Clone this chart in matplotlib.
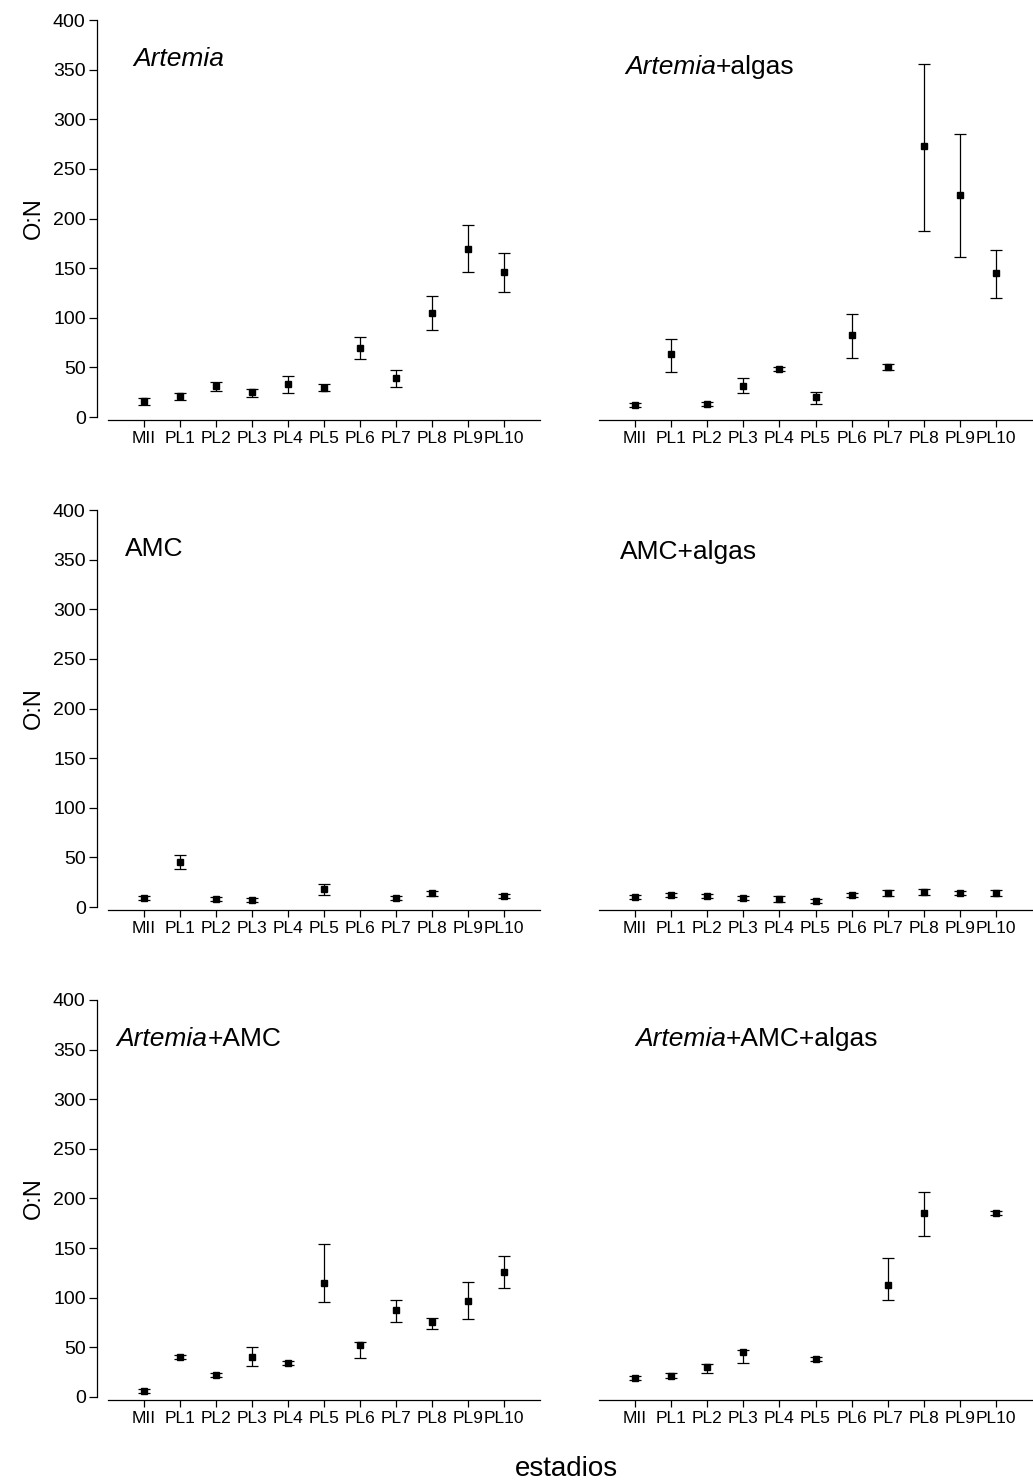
import numpy as np
import matplotlib
matplotlib.use("Agg")
import matplotlib.pyplot as plt

plt.rcParams['font.family'] = ['Liberation Sans', 'DejaVu Sans']

nan = np.nan
stages = ['MII', 'PL1', 'PL2', 'PL3', 'PL4', 'PL5', 'PL6', 'PL7', 'PL8', 'PL9', 'PL10']

# O:N means with lower / upper error limits, one set per diet
art_mean = [16, 21, 31, 25, 33, 29, 70, 39, 105, 169, 146]
art_lo = [12, 17, 26, 20, 24, 26, 58, 30, 88, 146, 126]
art_hi = [19, 24, 35, 28, 41, 33, 81, 47, 122, 193, 165]

artalg_mean = [12, 63, 13, 31, 48, 20, 83, 50, 273, 224, 145]
artalg_lo = [10, 45, 11, 24, 46, 13, 59, 47, 187, 161, 120]
artalg_hi = [14, 79, 15, 39, 50, 25, 104, 53, 356, 285, 168]

amc_mean = [9, 45, 8, 7, nan, 18, nan, 9, 14, nan, 11]
amc_lo = [7, 38, 6, 5, nan, 12, nan, 7, 11, nan, 9]
amc_hi = [11, 52, 10, 9, nan, 23, nan, 11, 16, nan, 13]

amcalg_mean = [10, 12, 11, 9, 8, 6, 12, 14, 15, 14, 14]
amcalg_lo = [8, 10, 9, 7, 5, 4, 10, 11, 12, 12, 11]
amcalg_hi = [12, 14, 13, 11, 11, 8, 14, 17, 18, 16, 17]

artamc_mean = [6, 40, 22, 40, 34, 115, 52, 88, 76, 97, 126]
artamc_lo = [4, 38, 20, 31, 32, 96, 39, 76, 68, 79, 110]
artamc_hi = [8, 42, 24, 50, 36, 154, 55, 98, 80, 116, 142]

artamcalg_mean = [19, 21, 30, 45, nan, 38, nan, 113, 185, nan, 185]
artamcalg_lo = [17, 19, 24, 34, nan, 36, nan, 98, 162, nan, 183]
artamcalg_hi = [21, 24, 33, 47, nan, 40, nan, 140, 207, nan, 187]

# (italic part, plain part, mean, lo, hi, title x, title y)
panels = [
    ('Artemia', '', art_mean, art_lo, art_hi, 0.058, 0.872),
    ('Artemia', '+algas', artalg_mean, artalg_lo, artalg_hi, 0.06, 0.852),
    ('', 'AMC', amc_mean, amc_lo, amc_hi, 0.039, 0.872),
    ('', 'AMC+algas', amcalg_mean, amcalg_lo, amcalg_hi, 0.048, 0.864),
    ('Artemia', '+AMC', artamc_mean, artamc_lo, artamc_hi, 0.02, 0.872),
    ('Artemia', '+AMC+algas', artamcalg_mean, artamcalg_lo, artamcalg_hi, 0.083, 0.872),
]

fig = plt.figure(figsize=(10.33, 14.83), dpi=100)
lefts = [0.1045, 0.5799]
widths = [0.4182, 0.4192]
bottoms = [0.7188, 0.3884, 0.058]
h = 0.2677

x = np.arange(len(stages))
for i, (it, pl, mean, lo, hi, tx, ty) in enumerate(panels):
    row, col = divmod(i, 2)
    ax = fig.add_axes([lefts[col], bottoms[row], widths[col], h])
    mean = np.array(mean, float)
    yerr = [mean - np.array(lo, float), np.array(hi, float) - mean]
    ax.errorbar(x, mean, yerr=yerr, fmt='s', color='black', ms=5,
                ecolor='black', elinewidth=0.9, capsize=4, capthick=0.9)
    ax.set_xlim(-1, 11)
    ax.set_ylim(0, 400)
    ax.set_xticks(x)
    ax.set_xticklabels(stages)
    ax.tick_params(axis='x', direction='out', length=5, width=0.9, pad=3,
                   labelsize=12.5)
    for s in ['top', 'right']:
        ax.spines[s].set_visible(False)
    ax.spines['bottom'].set_position(('outward', 2))
    ax.spines['bottom'].set_linewidth(0.9)
    if col == 0:
        ax.set_yticks(np.arange(0, 401, 50))
        ax.tick_params(axis='y', direction='out', length=6, width=0.9,
                       labelsize=14, pad=2)
        ax.spines['left'].set_position(('outward', 8))
        ax.spines['left'].set_linewidth(0.9)
        ax.set_ylabel('O:N', fontsize=17, labelpad=6)
    else:
        ax.spines['left'].set_visible(False)
        ax.set_yticks([])

    if it:
        t = ax.text(tx, ty, it, transform=ax.transAxes, fontsize=19,
                    style='italic', va='bottom', ha='left')
        if pl:
            ax.annotate(pl, xy=(1, 0), xycoords=t, fontsize=19,
                        va='bottom', ha='left')
    else:
        ax.text(tx, ty, pl, transform=ax.transAxes, fontsize=19,
                va='bottom', ha='left')

fig.text(0.5485, 0.001, 'estadios', fontsize=20, ha='center', va='bottom')

fig.savefig('out.png', dpi=100)
